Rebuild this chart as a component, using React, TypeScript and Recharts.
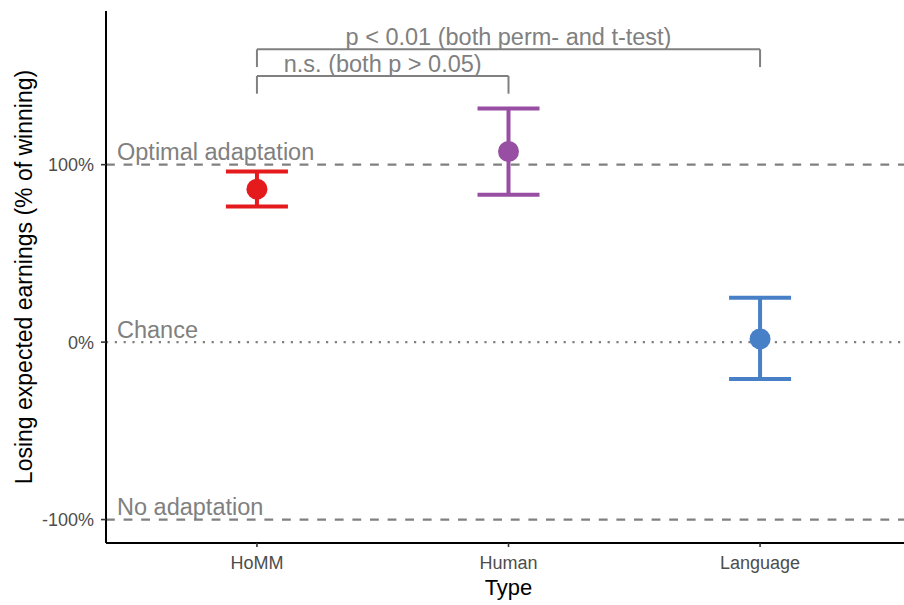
import React from 'react';
import { ComposedChart, Scatter, ErrorBar, XAxis, YAxis, ReferenceLine } from 'recharts';

const categories = ['HoMM', 'Human', 'Language'];
const means = [86.2, 107.4, 1.8];
const upperCI = [96.1, 131.6, 25.0];
const lowerCI = [76.4, 83.0, -20.8];
const colors = ['#E41A1C', '#984EA3', '#4880C8'];

const yTicks = [-100, 0, 100];
const refValues = [100, 0, -100];
const refLabels = ['Optimal adaptation', 'Chance', 'No adaptation'];

const compFrom = [1, 1];
const compTo = [2, 3];
const compY = [150, 165];
const compTip = [140, 155];
const compLabels = ['n.s. (both p > 0.05)', 'p < 0.01 (both perm- and t-test)'];

const FONT = '"Liberation Sans", Arial, Helvetica, sans-serif';
const GREY = '#808080';

const seriesData = categories.map((c, i) => [
  { x: i + 1, y: means[i], err: [means[i] - lowerCI[i], upperCI[i] - means[i]], name: c },
]);

const refDash = ['8.8 8.8', '2.2 6.6', '8.8 8.8'];

const RefText = (text: string) => (props: any) => {
  const vb = props.viewBox || {};
  return (
    <text x={(vb.x ?? 0) + 11} y={(vb.y ?? 0) - 4.5} fill={GREY} fontSize={23.5} fontFamily={FONT} textAnchor="start">
      {text}
    </text>
  );
};

const BracketText = (text: string) => (props: any) => {
  const vb = props.viewBox || {};
  return (
    <text x={(vb.x ?? 0) + (vb.width ?? 0) / 2} y={(vb.y ?? 0) - 4.2} fill={GREY} fontSize={23.5} fontFamily={FONT} textAnchor="middle">
      {text}
    </text>
  );
};

const YTitle = (props: any) => {
  const vb = props.viewBox || { x: 0, y: 0, width: 0, height: 0 };
  const cx = vb.x + 32;
  const cy = vb.y + vb.height / 2;
  return (
    <text x={cx} y={cy} transform={`rotate(-90, ${cx}, ${cy})`} textAnchor="middle" fontSize={23} fontFamily={FONT} fill="#000">
      Losing expected earnings (% of winning)
    </text>
  );
};

const XTitle = (props: any) => {
  const vb = props.viewBox || { x: 0, y: 0, width: 0, height: 0 };
  return (
    <text x={vb.x + vb.width / 2} y={594.5} textAnchor="middle" fontSize={22} fontFamily={FONT} fill="#000">
      Type
    </text>
  );
};

const Dot = (color: string) => (props: any) => (
  <circle cx={props.cx} cy={props.cy} r={10.5} fill={color} />
);

export default function App() {
  return (
    <div style={{ position: 'fixed', left: 0, top: 0, width: 904, height: 605, overflow: 'hidden', background: '#fff' }}>
      <ComposedChart width={912} height={605} margin={{ top: 11, right: 1, bottom: 0, left: 0 }}>
        <XAxis
          type="number"
          dataKey="x"
          domain={[0.4, 3.6]}
          ticks={[1, 2, 3]}
          tickFormatter={(v: number) => categories[v - 1]}
          allowDataOverflow
          height={62}
          axisLine={{ stroke: '#000', strokeWidth: 2 }}
          tickLine={{ stroke: '#333', strokeWidth: 1.6 }}
          tickSize={4}
          tickMargin={9}
          tick={{ fill: '#4D4D4D', fontSize: 18, fontFamily: FONT }}
          label={<XTitle />}
        />
        <YAxis
          type="number"
          domain={[-113.2, 186.6]}
          ticks={yTicks}
          tickFormatter={(v: number) => `${v}%`}
          allowDataOverflow
          width={106}
          axisLine={{ stroke: '#000', strokeWidth: 2 }}
          tickLine={{ stroke: '#333', strokeWidth: 1.6 }}
          tickSize={5}
          tickMargin={7}
          tick={{ fill: '#4D4D4D', fontSize: 18, fontFamily: FONT }}
          label={<YTitle />}
        />
        {refValues.map((v, i) => (
          <ReferenceLine
            key={`ref-${i}`}
            y={v}
            stroke={GREY}
            strokeWidth={2.2}
            strokeDasharray={refDash[i]}
            label={RefText(refLabels[i])}
          />
        ))}
        {compLabels.map((lab, i) => (
          <ReferenceLine
            key={`bh-${i}`}
            segment={[{ x: compFrom[i], y: compY[i] }, { x: compTo[i], y: compY[i] }]}
            stroke={GREY}
            strokeWidth={2}
            label={BracketText(lab)}
          />
        ))}
        {compLabels.map((lab, i) => (
          <ReferenceLine
            key={`bl-${i}`}
            segment={[{ x: compFrom[i], y: compTip[i] }, { x: compFrom[i], y: compY[i] }]}
            stroke={GREY}
            strokeWidth={2}
          />
        ))}
        {compLabels.map((lab, i) => (
          <ReferenceLine
            key={`br-${i}`}
            segment={[{ x: compTo[i], y: compTip[i] }, { x: compTo[i], y: compY[i] }]}
            stroke={GREY}
            strokeWidth={2}
          />
        ))}
        {seriesData.map((d, i) => (
          <Scatter
            key={`s-${i}`}
            data={d}
            dataKey="y"
            fill={colors[i]}
            shape={Dot(colors[i])}
            isAnimationActive={false}
          >
            <ErrorBar dataKey="err" direction="y" width={31} stroke={colors[i]} strokeWidth={4} isAnimationActive={false} />
          </Scatter>
        ))}
      </ComposedChart>
    </div>
  );
}
